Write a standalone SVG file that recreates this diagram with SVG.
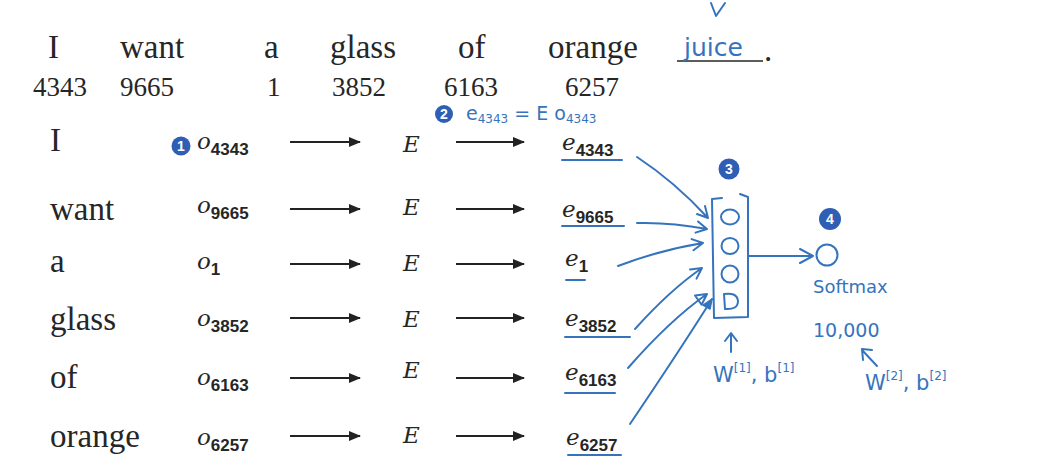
<svg xmlns="http://www.w3.org/2000/svg" width="1060" height="465" viewBox="0 0 1060 465">
<defs>
<marker id="ah" viewBox="0 0 12 10" refX="11" refY="5" markerWidth="12" markerHeight="10" markerUnits="userSpaceOnUse" orient="auto">
<path d="M0,0 L12,5 L0,10 Z" fill="#222"/>
</marker>
</defs>
<style>
.w{font-family:"Liberation Serif",serif;font-size:33px;fill:#262626}
.n{font-family:"Liberation Serif",serif;font-size:27px;fill:#262626}
.m{font-family:"DejaVu Serif",serif;font-style:italic;font-size:23px;fill:#262626}
.s{font-family:"Liberation Sans",sans-serif;font-weight:bold;font-size:17px;font-style:normal}
.h{font-family:"DejaVu Sans","Liberation Sans",sans-serif;fill:#3574bd}
.hs{fill:none;stroke:#3574bd;stroke-width:2;stroke-linecap:round;stroke-linejoin:round}
.ar{stroke:#222;stroke-width:2;fill:none;marker-end:url(#ah)}
.badge{fill:#2f5fb5}
.bt{font-family:"Liberation Sans",sans-serif;font-weight:bold;font-size:14px;fill:#fff;text-anchor:middle}
</style>
<rect width="1060" height="465" fill="#fff"/>

<g id="sentence">
<text class="w" x="48" y="58">I</text>
<text class="w" x="120" y="58">want</text>
<text class="w" x="264" y="58">a</text>
<text class="w" x="330" y="58">glass</text>
<text class="w" x="458" y="58">of</text>
<text class="w" x="548" y="58">orange</text>
<line x1="677" y1="61" x2="763" y2="61" stroke="#262626" stroke-width="1.6"/>
<text class="w" x="764" y="61">.</text>
<text class="h" x="684" y="56" font-size="25">juice</text>
<path class="hs" d="M711,3 L716,16 L725,3"/>
</g>

<g id="indices">
<text class="n" x="33" y="96">4343</text>
<text class="n" x="120" y="96">9665</text>
<text class="n" x="267" y="96">1</text>
<text class="n" x="332" y="96">3852</text>
<text class="n" x="444" y="96">6163</text>
<text class="n" x="565" y="96">6257</text>
</g>

<g id="note2">
<circle class="badge" cx="444" cy="114" r="9"/>
<text class="bt" x="444" y="119">2</text>
<text class="h" x="466" y="120" font-size="19">e<tspan font-size="12" dy="3">4343</tspan><tspan dy="-3"> = E o</tspan><tspan font-size="12" dy="3">4343</tspan></text>
</g>

<g id="row1">
<text class="w" x="50" y="151">I</text>
<circle class="badge" cx="181" cy="146" r="9.5"/>
<text class="bt" x="181" y="151">1</text>
<text class="m" x="197" y="149">o<tspan class="s" dy="6">4343</tspan></text>
<text class="m" x="403" y="152">E</text>
<text class="m" x="562" y="150">e<tspan class="s" dy="6">4343</tspan></text>
<line class="hs" x1="562" y1="160" x2="622" y2="160"/>
</g>
<g id="row2">
<text class="w" x="50" y="220">want</text>
<text class="m" x="197" y="213">o<tspan class="s" dy="6">9665</tspan></text>
<text class="m" x="403" y="215">E</text>
<text class="m" x="562" y="217">e<tspan class="s" dy="6">9665</tspan></text>
<line class="hs" x1="562" y1="226" x2="624" y2="226"/>
</g>
<g id="row3">
<text class="w" x="50" y="272">a</text>
<text class="m" x="197" y="269">o<tspan class="s" dy="6">1</tspan></text>
<text class="m" x="403" y="271">E</text>
<text class="m" x="565" y="266">e<tspan class="s" dy="6">1</tspan></text>
<line class="hs" x1="566" y1="280" x2="585" y2="280"/>
</g>
<g id="row4">
<text class="w" x="50" y="330">glass</text>
<text class="m" x="197" y="326">o<tspan class="s" dy="6">3852</tspan></text>
<text class="m" x="403" y="327">E</text>
<text class="m" x="565" y="326">e<tspan class="s" dy="6">3852</tspan></text>
<line class="hs" x1="565" y1="337" x2="630" y2="337"/>
</g>
<g id="row5">
<text class="w" x="50" y="388">of</text>
<text class="m" x="197" y="385">o<tspan class="s" dy="6">6163</tspan></text>
<text class="m" x="403" y="378">E</text>
<text class="m" x="565" y="380">e<tspan class="s" dy="6">6163</tspan></text>
<line class="hs" x1="565" y1="393" x2="615" y2="393"/>
</g>
<g id="row6">
<text class="w" x="50" y="447">orange</text>
<text class="m" x="197" y="445">o<tspan class="s" dy="6">6257</tspan></text>
<text class="m" x="403" y="443">E</text>
<text class="m" x="566" y="445">e<tspan class="s" dy="6">6257</tspan></text>
<line class="hs" x1="568" y1="455" x2="621" y2="455"/>
</g>

<g id="hidden-layer">
<circle class="badge" cx="729" cy="169" r="10.5"/>
<text class="bt" x="729" y="174">3</text>
<path class="hs" d="M722,198 L712,199 L714,318 L748,317 L748,197 L740,194"/>
<ellipse class="hs" cx="730" cy="217" rx="9" ry="7.5"/>
<ellipse class="hs" cx="730" cy="246" rx="8.5" ry="8"/>
<ellipse class="hs" cx="730" cy="274" rx="8.5" ry="8.5"/>
<path class="hs" d="M724,294 L725,309 Q738,310 738,301 Q737,292 724,294"/>
<path class="hs" d="M731,352 L731,334 M725,341 L731,333 L737,341"/>
<text class="h" x="713" y="382" font-size="21">W<tspan font-size="12" dy="-10">[1]</tspan><tspan dy="10">, b</tspan><tspan font-size="12" dy="-10">[1]</tspan></text>
</g>

<g id="softmax">
<circle class="badge" cx="830" cy="219" r="11"/>
<text class="bt" x="830" y="224">4</text>
<circle class="hs" cx="827" cy="255" r="10.5"/>
<text class="h" x="813" y="293" font-size="18">Softmax</text>
<text class="h" x="813" y="337" font-size="19">10,000</text>
<path class="hs" d="M877,366 L862,350 M863,360 L862,349 L872,350"/>
<text class="h" x="865" y="390" font-size="21">W<tspan font-size="12" dy="-10">[2]</tspan><tspan dy="10">, b</tspan><tspan font-size="12" dy="-10">[2]</tspan></text>
</g>

<g id="connectors">
<line class="ar" x1="290" y1="142" x2="360" y2="142"/>
<line class="ar" x1="456" y1="142" x2="524" y2="142"/>
<line class="ar" x1="290" y1="209" x2="360" y2="209"/>
<line class="ar" x1="456" y1="209" x2="524" y2="209"/>
<line class="ar" x1="290" y1="264" x2="360" y2="264"/>
<line class="ar" x1="456" y1="264" x2="524" y2="264"/>
<line class="ar" x1="290" y1="318" x2="360" y2="318"/>
<line class="ar" x1="456" y1="318" x2="524" y2="318"/>
<line class="ar" x1="290" y1="378" x2="360" y2="378"/>
<line class="ar" x1="456" y1="378" x2="524" y2="378"/>
<line class="ar" x1="290" y1="436" x2="360" y2="436"/>
<line class="ar" x1="456" y1="436" x2="524" y2="436"/>

<path class="hs" d="M637,157 Q675,182 708,218 M705,206 L708,218 L697,214"/>
<path class="hs" d="M637,223 Q670,222 707,229 M698,221.5 L707,229 L695.5,232.6"/>
<path class="hs" d="M618,266 Q660,250 703,243 M691.6,239.1 L703,243 L693.5,250.3"/>
<path class="hs" d="M635,329 Q670,290 702,268 M690,269.4 L702,268 L696.5,278.6"/>
<path class="hs" d="M628,368 Q670,320 707,294 M695,295.5 L707,294 L701.6,304.7 Z"/>
<path class="hs" d="M630,424 Q680,350 712,299"/>
<path d="M712,299 L703,305 L710,309 Z" fill="#3574bd" stroke="#3574bd" stroke-width="1.5" stroke-linejoin="round"/>
<path class="hs" d="M748,256 L813,256 M800,249 L813,256 L800,263"/>
</g>
</svg>
